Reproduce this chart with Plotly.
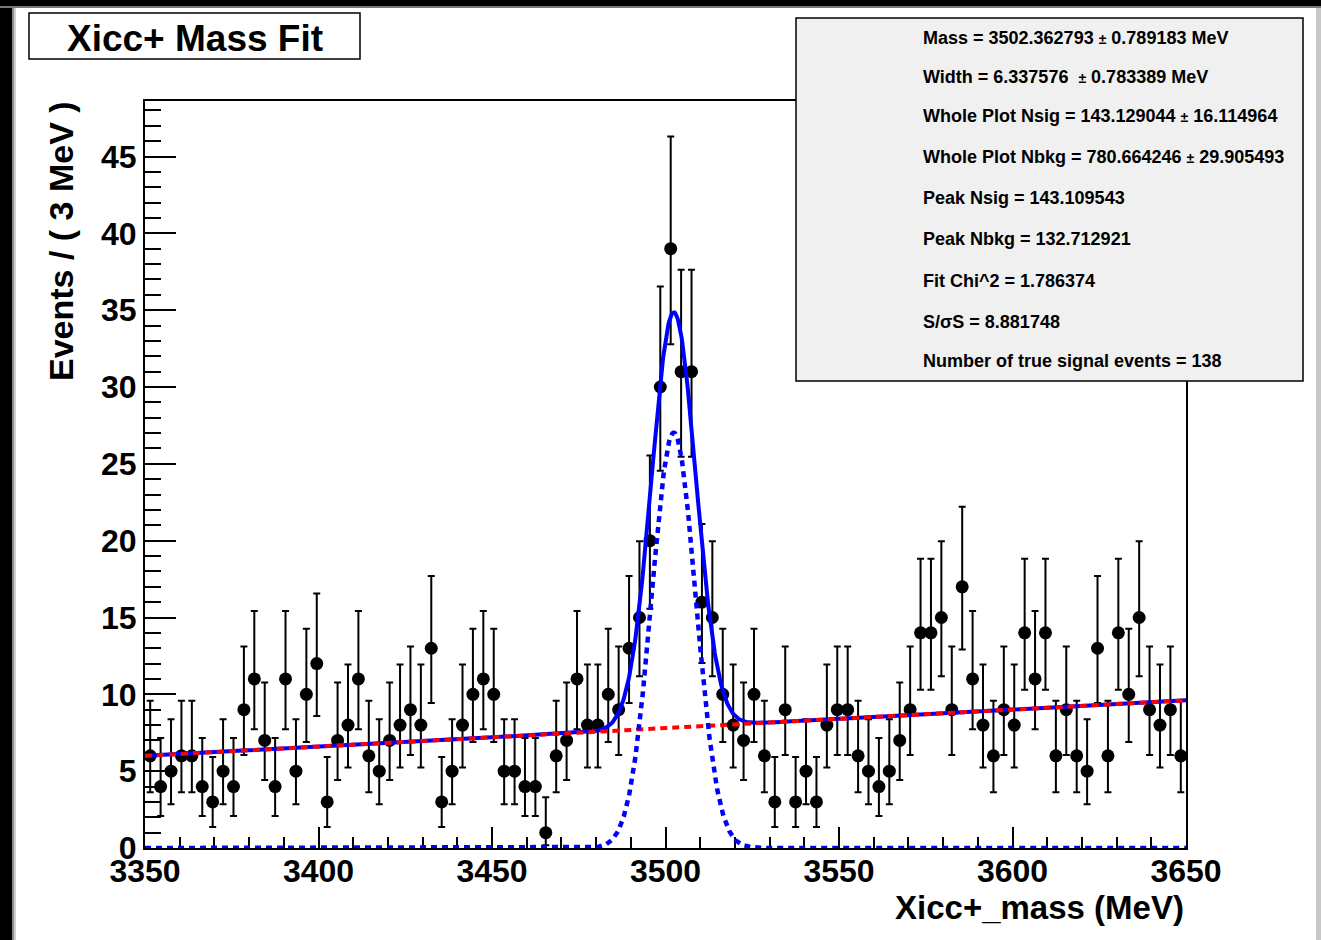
import math
import numpy as np
import plotly.graph_objects as go

# ---------------- data ----------------
bin_lo = 3350.0
bin_hi = 3650.0
bin_width = 3.0
counts = [6, 4, 5, 6, 6, 4, 3, 5, 4, 9,
          11, 7, 4, 11, 5, 10, 12, 3, 7, 8,
          11, 6, 5, 7, 8, 9, 8, 13, 3, 5,
          8, 10, 11, 10, 5, 5, 4, 4, 1, 6,
          7, 11, 8, 8, 10, 9, 13, 15, 20, 30,
          39, 31, 31, 16, 15, 10, 8, 7, 10, 6,
          3, 9, 3, 5, 3, 8, 9, 9, 6, 5,
          4, 5, 7, 9, 14, 14, 15, 9, 17, 11,
          8, 6, 9, 8, 14, 11, 14, 6, 9, 6,
          5, 13, 6, 14, 10, 15, 9, 8, 9, 6]

# fit results (from the stat box) and background line ends
fit_mass = 3502.362793
fit_width = 6.337576
fit_nsig = 143.129044
bkg_at_lo = 6.0
bkg_at_hi = 9.61

stat_lines = [
    "Mass = 3502.362793 <span style='font-size:14px'>±</span> 0.789183 MeV",
    "Width = 6.337576  <span style='font-size:14px'>±</span> 0.783389 MeV",
    "Whole Plot Nsig = 143.129044 <span style='font-size:14px'>±</span> 16.114964",
    "Whole Plot Nbkg = 780.664246 <span style='font-size:14px'>±</span> 29.905493",
    "Peak Nsig = 143.109543",
    "Peak Nbkg = 132.712921",
    "Fit Chi^2 = 1.786374",
    "S/σS = 8.881748",
    "Number of true signal events = 138",
]
stat_line_y_px = [38, 77, 116, 157, 198, 239, 281, 322, 361]

x_ticks = [3350, 3400, 3450, 3500, 3550, 3600, 3650]
y_ticks = [0, 5, 10, 15, 20, 25, 30, 35, 40, 45]

# ---------------- derived quantities ----------------
centers = [bin_lo + bin_width * (i + 0.5) for i in range(len(counts))]

ALPHA = (1 - 0.682689) / 2


def pois_cdf(n, mu):
    if n < 0:
        return 0.0
    term = math.exp(-mu)
    s = term
    for k in range(1, n + 1):
        term *= mu / k
        s += term
    return s


def garwood(n):
    lo, hi = float(n), n + 10 * math.sqrt(n + 1) + 10
    for _ in range(80):
        mid = 0.5 * (lo + hi)
        if pois_cdf(n, mid) > ALPHA:
            lo = mid
        else:
            hi = mid
    up = 0.5 * (lo + hi)
    if n == 0:
        return 0.0, up
    lo, hi = 0.0, float(n)
    for _ in range(80):
        mid = 0.5 * (lo + hi)
        if pois_cdf(n - 1, mid) > 1 - ALPHA:
            lo = mid
        else:
            hi = mid
    return 0.5 * (lo + hi), up


err_plus, err_minus = [], []
for c in counts:
    l, u = garwood(c)
    err_plus.append(u - c)
    err_minus.append(c - l)

xf = np.linspace(bin_lo, bin_hi, 1501)
bkg = bkg_at_lo + (bkg_at_hi - bkg_at_lo) * (xf - bin_lo) / (bin_hi - bin_lo)
sig = fit_nsig * bin_width / (fit_width * math.sqrt(2 * math.pi)) * np.exp(
    -0.5 * ((xf - fit_mass) / fit_width) ** 2)
tot = bkg + sig

ymax = max(c + e for c, e in zip(counts, err_plus)) * 1.05

# ---------------- figure ----------------
W, H = 1321, 940
L, R, T, B = 145, 1186, 101, 848
FONT = "Liberation Sans, Arial, Helvetica, sans-serif"


def px_x(p):
    return (p - L) / (R - L)


def px_y(p):
    return (B - p) / (B - T)


fig = go.Figure()

fig.add_trace(go.Scatter(
    x=centers, y=counts, mode="markers",
    marker=dict(color="black", size=13),
    error_y=dict(type="data", symmetric=False, array=err_plus,
                 arrayminus=err_minus, color="black", thickness=2, width=3.5),
    showlegend=False, hoverinfo="skip"))

fig.add_trace(go.Scatter(x=xf, y=tot, mode="lines",
                         line=dict(color="#0000ff", width=4),
                         showlegend=False, hoverinfo="skip"))
fig.add_trace(go.Scatter(x=xf, y=bkg, mode="lines",
                         line=dict(color="#ff0000", width=4, dash="7px,5px"),
                         showlegend=False, hoverinfo="skip"))
fig.add_trace(go.Scatter(x=xf, y=sig, mode="lines",
                         line=dict(color="#0000ff", width=4.5, dash="6px,5px"),
                         showlegend=False, hoverinfo="skip"))

shapes = []
annotations = []

# window frame around the canvas
shapes += [
    dict(type="rect", xref="paper", yref="paper", x0=px_x(0), x1=px_x(12),
         y0=px_y(0), y1=px_y(H), fillcolor="black", line=dict(width=0), layer="above"),
    dict(type="rect", xref="paper", yref="paper", x0=px_x(12), x1=px_x(14),
         y0=px_y(0), y1=px_y(H), fillcolor="#8a8a8a", line=dict(width=0), layer="above"),
    dict(type="rect", xref="paper", yref="paper", x0=px_x(14), x1=px_x(16),
         y0=px_y(0), y1=px_y(H), fillcolor="#cfcfcf", line=dict(width=0), layer="above"),
    dict(type="rect", xref="paper", yref="paper", x0=px_x(0), x1=px_x(W),
         y0=px_y(0), y1=px_y(6), fillcolor="black", line=dict(width=0), layer="above"),
    dict(type="rect", xref="paper", yref="paper", x0=px_x(0), x1=px_x(W),
         y0=px_y(6), y1=px_y(8), fillcolor="#7a7a7a", line=dict(width=0), layer="above"),
    dict(type="rect", xref="paper", yref="paper", x0=px_x(1316), x1=px_x(W),
         y0=px_y(8), y1=px_y(H), fillcolor="#c8c8c8", line=dict(width=0), layer="above"),
]

# title box
shapes.append(dict(type="rect", xref="paper", yref="paper",
                   x0=px_x(29), x1=px_x(360), y0=px_y(59), y1=px_y(13),
                   fillcolor="white", line=dict(color="black", width=1.5), layer="above"))
annotations.append(dict(text="Xicc+ Mass Fit", xref="paper", yref="paper",
                        x=px_x(194.5), y=px_y(38), xanchor="center", yanchor="middle",
                        showarrow=False,
                        font=dict(family=FONT, size=37, color="black", weight="bold")))

# stat box
shapes.append(dict(type="rect", xref="paper", yref="paper",
                   x0=px_x(796), x1=px_x(1303), y0=px_y(381), y1=px_y(18),
                   fillcolor="#f0f0f0", line=dict(color="black", width=1.5), layer="above"))
for txt, yp in zip(stat_lines, stat_line_y_px):
    annotations.append(dict(text=txt, xref="paper", yref="paper",
                            x=px_x(921), y=px_y(yp), xanchor="left", yanchor="middle",
                            showarrow=False,
                            font=dict(family=FONT, size=18, color="black", weight="bold")))

# axis titles
annotations.append(dict(text="Events / ( 3 MeV )", xref="paper", yref="paper",
                        x=px_x(61), y=px_y(99), xanchor="center", yanchor="top",
                        textangle=-90, showarrow=False,
                        font=dict(family=FONT, size=34, color="black", weight="bold")))
annotations.append(dict(text="Xicc+_mass (MeV)", xref="paper", yref="paper",
                        x=1.0, y=px_y(907), xanchor="right", yanchor="middle",
                        showarrow=False,
                        font=dict(family=FONT, size=33, color="black", weight="bold")))

fig.update_layout(
    width=W, height=H,
    margin=dict(l=L, r=W - R, t=T, b=H - B, pad=0),
    paper_bgcolor="white", plot_bgcolor="white",
    showlegend=False,
    shapes=shapes, annotations=annotations,
    xaxis=dict(range=[bin_lo, bin_hi], tickvals=x_ticks,
               ticktext=[str(v) for v in x_ticks],
               ticks="inside", ticklen=21, tickwidth=2, tickcolor="black",
               minor=dict(dtick=10, ticks="inside", ticklen=11, tickwidth=2,
                          tickcolor="black"),
               showline=True, linecolor="black", linewidth=2, mirror=True,
               showgrid=False, zeroline=False, layer="below traces",
               ticklabelstandoff=-6,
               tickfont=dict(family=FONT, size=32, color="black", weight="bold")),
    yaxis=dict(range=[0, ymax], tickvals=y_ticks,
               ticktext=[str(v) for v in y_ticks],
               ticks="inside", ticklen=31, tickwidth=2, tickcolor="black",
               minor=dict(dtick=1, ticks="inside", ticklen=16, tickwidth=2,
                          tickcolor="black"),
               showline=True, linecolor="black", linewidth=2, mirror=True,
               showgrid=False, zeroline=False, layer="below traces",
               tickfont=dict(family=FONT, size=32, color="black", weight="bold")),
)

fig.write_html(
    "out.html",
    config={"displayModeBar": False},
    post_script="document.body.style.margin='0';document.body.style.padding='0';"
                "document.body.style.overflow='hidden';",
)
